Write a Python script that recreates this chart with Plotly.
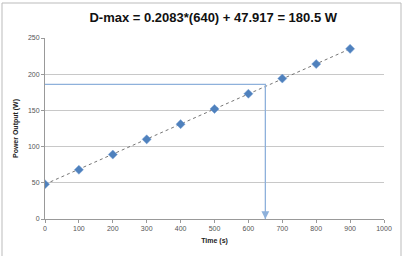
import plotly.graph_objects as go

time_s = [0, 100, 200, 300, 400, 500, 600, 700, 800, 900]
power_w = [48, 68, 89, 110, 131, 152, 173, 194, 214, 235]
dmax_time = 650
dmax_power = 186
x_ticks = [0, 100, 200, 300, 400, 500, 600, 700, 800, 900, 1000]
y_ticks = [0, 50, 100, 150, 200, 250]

line_col = "#8eb1db"
fig = go.Figure()
# trendline
fig.add_trace(go.Scatter(x=[time_s[0], time_s[-1]], y=[power_w[0], power_w[-1]], mode="lines",
                         line=dict(color="#666666", width=0.9, dash="dot"), hoverinfo="skip"))
# D-max guide lines
fig.add_trace(go.Scatter(x=[0, dmax_time, dmax_time], y=[dmax_power, dmax_power, 0], mode="lines",
                         line=dict(color=line_col, width=1.3), hoverinfo="skip"))
fig.add_annotation(x=dmax_time, y=0, ax=dmax_time, ay=12, axref="x", ayref="y",
                   xref="x", yref="y", showarrow=True, arrowhead=2, arrowsize=1.2,
                   arrowwidth=1.3, arrowcolor=line_col, text="")
fig.add_trace(go.Scatter(x=time_s, y=power_w, mode="markers",
                         marker=dict(symbol="diamond", size=7, color="#4f81bd",
                                     line=dict(color="#7aa3d6", width=0.5))))

fig.update_layout(
    width=405, height=256, margin=dict(l=45, r=21, t=38, b=37),
    paper_bgcolor="white", plot_bgcolor="white", showlegend=False,
    font=dict(family="Liberation Sans, Arial", color="#555555", size=7),
    title=dict(text="<b>D-max = 0.2083*(640) + 47.917 = 180.5 W</b>", x=201/405, xanchor="center",
               y=1 - 17/256, yanchor="middle", xref="paper",
               font=dict(family="Liberation Sans, Arial", size=13, color="#111111")),
    shapes=[dict(type="rect", xref="paper", yref="paper", x0=-43/339, x1=1 + 17/339,
                 y0=-45/181, y1=1 + 35/181, line=dict(color="#bbbbbb", width=1), layer="below")],
)
fig.update_xaxes(range=[0, 1000], tickvals=x_ticks, showgrid=False, showline=True,
                 linecolor="#999999", linewidth=1, ticks="outside", ticklen=3, tickcolor="#999999",
                 zeroline=False, title=dict(text="<b>Time (s)</b>", standoff=6,
                                            font=dict(size=7, color="#222222")))
fig.update_yaxes(range=[0, 250], tickvals=y_ticks, showgrid=True, gridcolor="#c8c8c8", gridwidth=1,
                 showline=True, linecolor="#999999", linewidth=1, ticks="outside", ticklen=3,
                 tickcolor="#999999", zeroline=False,
                 title=dict(text="<b>Power Output (W)</b>", standoff=8,
                            font=dict(size=7, color="#222222")))
fig.write_html("out.html")
